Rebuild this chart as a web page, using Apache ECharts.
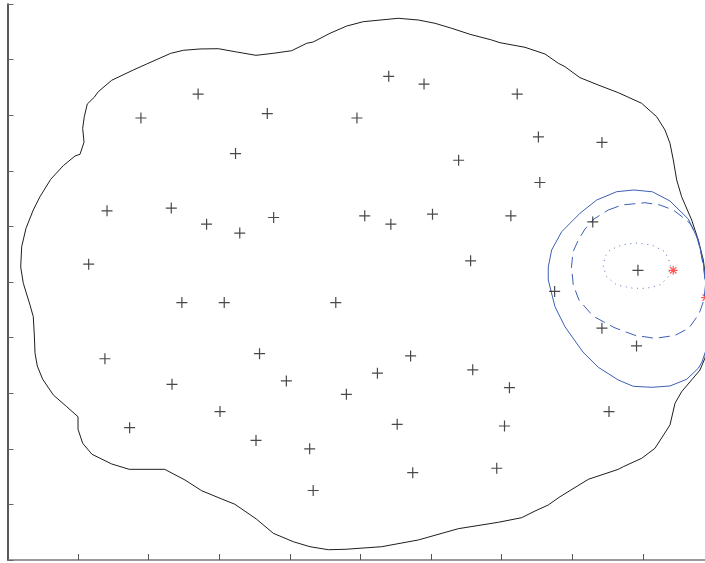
<!DOCTYPE html>
<html>
<head>
<meta charset="utf-8">
<script src="https://cdn.jsdelivr.net/npm/echarts@6/dist/echarts.min.js"></script>
<style>
  html, body { margin: 0; padding: 0; background: #fff; }
  #chart { width: 705px; height: 563px; }
</style>
</head>
<body>
<div id="chart"></div>
<script>
// Sample locations (plus markers)
const samplePoints = [
  [5.40, 8.70], [5.90, 8.56], [2.70, 8.38], [7.22, 8.38], [1.89, 7.95],
  [3.68, 8.03], [4.95, 7.95], [7.52, 7.61], [8.42, 7.51], [3.23, 7.31],
  [6.39, 7.19], [7.54, 6.79], [1.41, 6.28], [2.32, 6.33], [2.82, 6.04],
  [3.29, 5.88], [3.77, 6.16], [5.06, 6.19], [5.43, 6.04], [6.02, 6.22],
  [7.13, 6.19], [8.29, 6.08], [1.15, 5.32], [6.56, 5.38], [8.93, 5.21],
  [2.47, 4.63], [3.07, 4.63], [4.65, 4.63], [7.75, 4.83], [8.42, 4.17],
  [1.38, 3.62], [3.57, 3.71], [5.71, 3.67], [8.91, 3.85], [2.33, 3.16],
  [3.95, 3.22], [5.24, 3.36], [6.59, 3.42], [7.11, 3.10], [4.80, 2.98],
  [3.01, 2.67], [8.52, 2.67], [1.73, 2.38], [3.52, 2.15], [5.52, 2.44],
  [7.04, 2.41], [4.28, 2.00], [5.74, 1.57], [6.93, 1.65], [4.33, 1.25]
];

// Highlighted locations (red asterisks)
const highlightPoints = [
  [9.43, 5.21], [9.89, 4.72]
];

// Outer boundary (closed)
const boundary = [
  [0.187, 5.270], [0.201, 5.635], [0.262, 5.966], [0.365, 6.295], [0.460, 6.534],
  [0.612, 6.847], [0.790, 7.092], [0.956, 7.266], [1.027, 7.297], [1.084, 7.513],
  [1.065, 7.764], [1.088, 7.973], [1.130, 8.201], [1.229, 8.322], [1.286, 8.423],
  [1.476, 8.628], [1.782, 8.813], [1.972, 8.921], [2.312, 9.113], [2.490, 9.167],
  [2.727, 9.191], [2.986, 9.196], [3.246, 9.137], [3.520, 9.077], [3.765, 9.113],
  [4.025, 9.160], [4.238, 9.293], [4.331, 9.317], [4.568, 9.473], [4.805, 9.604],
  [5.040, 9.682], [5.535, 9.743], [5.819, 9.712], [6.055, 9.653], [6.292, 9.563],
  [6.551, 9.455], [6.858, 9.353], [6.976, 9.304], [7.330, 9.221], [7.613, 9.101],
  [7.802, 8.934], [7.896, 8.873], [8.109, 8.675], [8.368, 8.543], [8.652, 8.405],
  [8.983, 8.214], [9.195, 7.973], [9.313, 7.734], [9.384, 7.495], [9.431, 7.194],
  [9.479, 6.835], [9.549, 6.534], [9.691, 6.115], [9.785, 5.755], [9.856, 5.396],
  [9.894, 5.036], [9.922, 4.496], [9.915, 3.957], [9.880, 3.633], [9.809, 3.417],
  [9.710, 3.268], [9.549, 3.027], [9.455, 2.818], [9.384, 2.428], [9.171, 2.009],
  [8.983, 1.829], [8.722, 1.678], [8.652, 1.631], [8.227, 1.451], [7.826, 1.138],
  [7.660, 0.989], [7.472, 0.881], [7.283, 0.761], [6.952, 0.678], [6.385, 0.563],
  [5.819, 0.360], [5.300, 0.239], [4.780, 0.192], [4.544, 0.185], [4.285, 0.239],
  [4.048, 0.329], [3.765, 0.480], [3.530, 0.732], [3.222, 1.002], [3.010, 1.110],
  [2.751, 1.246], [2.514, 1.439], [2.227, 1.631], [1.725, 1.631], [1.476, 1.727],
  [1.197, 1.901], [1.065, 2.099], [0.999, 2.351], [0.999, 2.577], [0.839, 2.757],
  [0.649, 2.968], [0.499, 3.250], [0.422, 3.489], [0.390, 3.718], [0.380, 4.047],
  [0.365, 4.376], [0.319, 4.586], [0.224, 4.977], [0.187, 5.270]
];

// Outer contour (solid blue)
const contourOuter = [
  [8.629, 6.624], [8.874, 6.655], [9.136, 6.622], [9.384, 6.457], [9.643, 6.133],
  [9.785, 5.755], [9.856, 5.336], [9.894, 4.946], [9.908, 4.317], [9.894, 3.777],
  [9.837, 3.561], [9.785, 3.448], [9.620, 3.250], [9.384, 3.130], [9.129, 3.106],
  [8.864, 3.124], [8.652, 3.237], [8.368, 3.466], [8.151, 3.741], [7.896, 4.196],
  [7.755, 4.556], [7.660, 5.036], [7.660, 5.270], [7.708, 5.576], [7.850, 5.905],
  [8.109, 6.236], [8.346, 6.475], [8.629, 6.624]
];

// Middle contour (dashed blue)
const contourMiddle = [
  [8.510, 6.295], [8.704, 6.385], [9.030, 6.426], [9.242, 6.385], [9.431, 6.295],
  [9.554, 6.175], [9.667, 6.056], [9.752, 5.863], [9.816, 5.576], [9.865, 5.216],
  [9.887, 4.946], [9.865, 4.676], [9.795, 4.425], [9.653, 4.173], [9.455, 4.038],
  [9.171, 3.987], [8.888, 4.041], [8.591, 4.182], [8.293, 4.388], [8.095, 4.676],
  [8.014, 4.946], [7.989, 5.270], [8.010, 5.540], [8.085, 5.755], [8.180, 5.953],
  [8.307, 6.133], [8.510, 6.295]
];

// Inner contour (dotted blue)
const contourInner = [
  [8.439, 5.275], [8.463, 5.455], [8.534, 5.576], [8.700, 5.666], [8.902, 5.702],
  [9.125, 5.666], [9.313, 5.545], [9.391, 5.324], [9.360, 5.095], [9.242, 4.946],
  [9.054, 4.887], [8.864, 4.887], [8.629, 4.946], [8.487, 5.095], [8.439, 5.275]
];

// Visible axis extent and tick step (no labels are drawn)
const xRange = [0, 9.88];
const yRange = [0, 10];
const tickStep = 1;

const plusSymbol = 'path://M0,5L10,5M5,0L5,10';
const asteriskSymbol = 'path://M0,5L10,5M5,0L5,10M1.5,1.5L8.5,8.5M1.5,8.5L8.5,1.5';

const chart = echarts.init(document.getElementById('chart'), null, { renderer: 'canvas' });

function ring(data, color, type, z) {
  return {
    type: 'line',
    data: data,
    showSymbol: false,
    symbol: 'none',
    smooth: false,
    silent: true,
    animation: false,
    clip: false,
    z: z,
    lineStyle: { color: color, width: 1, type: type }
  };
}

chart.setOption({
  animation: false,
  backgroundColor: '#ffffff',
  grid: { left: 7.5, top: 4, right: 0, bottom: 3, containLabel: false },
  xAxis: {
    type: 'value',
    min: xRange[0], max: xRange[1], interval: tickStep,
    axisLine: { show: true, lineStyle: { color: '#7a7a7a', width: 1.5 } },
    axisTick: { show: true, inside: true, length: 6, lineStyle: { color: '#555', width: 1 } },
    axisLabel: { show: false },
    splitLine: { show: false }
  },
  yAxis: {
    type: 'value',
    min: yRange[0], max: yRange[1], interval: tickStep,
    axisLine: { show: true, lineStyle: { color: '#222', width: 1.5 } },
    axisTick: { show: true, inside: true, length: 6, lineStyle: { color: '#666', width: 1 } },
    axisLabel: { show: false },
    splitLine: { show: false }
  },
  series: [
    ring(boundary, '#1e1e1e', 'solid', 2),
    ring(contourOuter, '#3d5fb4', 'solid', 3),
    ring(contourMiddle, '#3d5fb4', [11, 6], 3),
    ring(contourInner, '#6f86c8', [1.2, 4.5], 3),
    {
      type: 'scatter',
      data: samplePoints,
      symbol: plusSymbol,
      symbolSize: 11,
      silent: true,
      clip: false,
      z: 4,
      itemStyle: { color: 'transparent', borderColor: '#1a1a1a', borderWidth: 1.2 }
    },
    {
      type: 'scatter',
      data: highlightPoints,
      symbol: asteriskSymbol,
      symbolSize: 9,
      silent: true,
      clip: false,
      z: 5,
      itemStyle: { color: 'transparent', borderColor: '#ff2b2b', borderWidth: 1.2 }
    }
  ]
});
</script>
</body>
</html>
